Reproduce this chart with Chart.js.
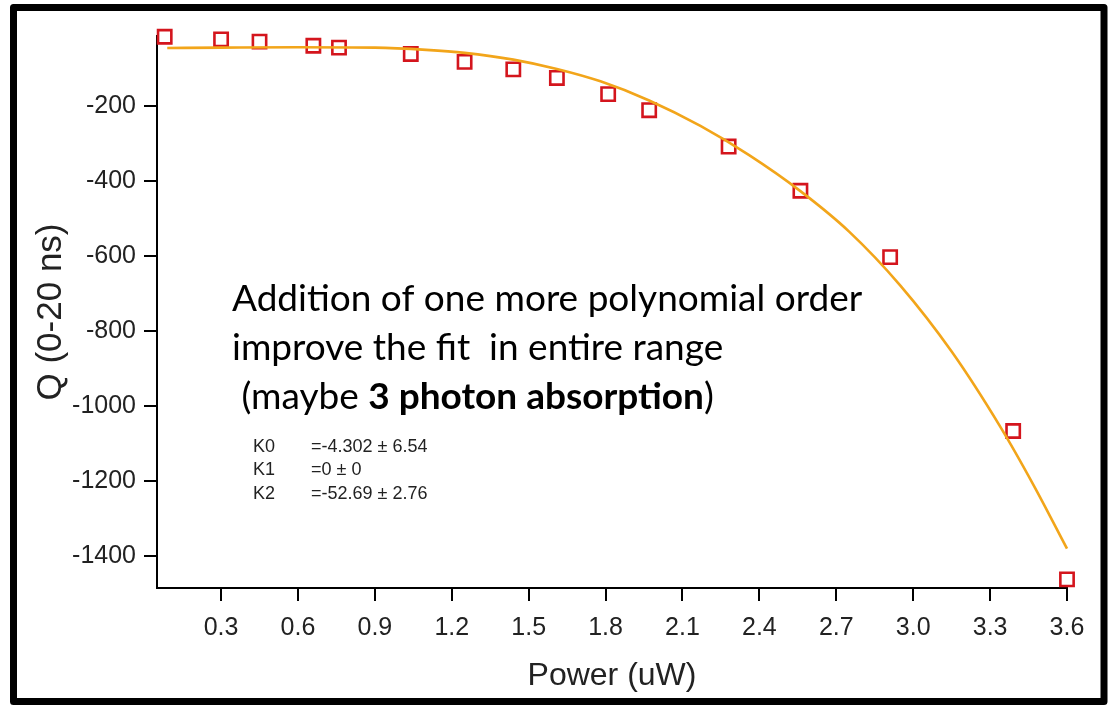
<!DOCTYPE html>
<html>
<head>
<meta charset="utf-8">
<script src="https://cdn.jsdelivr.net/npm/chart.js@4.4.1/dist/chart.umd.min.js"></script>
<style>
  html, body { margin: 0; padding: 0; background: #ffffff; }
  #c { display: block; }
</style>
</head>
<body>
<canvas id="c" width="1108" height="705"></canvas>
<script>
// ---- data ----
const powerX = [0.08, 0.30, 0.45, 0.66, 0.76, 1.04, 1.25, 1.44, 1.61, 1.81, 1.97, 2.28, 2.56, 2.91, 3.39, 3.60];
const chargeQ = [-14, -21, -27, -38, -43, -60, -81, -101, -124, -167, -210, -307, -425, -602, -1066, -1462];

const fitX = [0.09, 0.30, 0.60, 0.90, 1.10, 1.25, 1.44, 1.61, 1.78, 1.97, 2.17, 2.36, 2.56, 2.75, 2.95, 3.15, 3.34, 3.47, 3.60];
const fitQ = [-44, -43, -42, -43, -49, -57, -75, -100, -133, -184, -252, -330, -426, -534, -678, -854, -1055, -1211, -1380];

const xTickValues = [0.3, 0.6, 0.9, 1.2, 1.5, 1.8, 2.1, 2.4, 2.7, 3.0, 3.3, 3.6];
const yTickValues = [-1400, -1200, -1000, -800, -600, -400, -200];

const xTitle = 'Power (uW)';
const yTitle = 'Q (0-20 ns)';
const noteLines = ['Addition of one more polynomial order', 'improve the fit  in entire range'];
const noteLine3 = [' (maybe ', '3 photon absorption', ')'];
const coefNames = ['K0', 'K1', 'K2'];
const coefValues = ['=-4.302 \u00b1 6.54', '=0 \u00b1 0', '=-52.69 \u00b1 2.76'];

// ---- layout / style ----
const AXIS_FONT = '"Liberation Sans", Arial, sans-serif';
const NOTE_FONT = 'Lato, "Open Sans", sans-serif';
const NOTE_SIZE = 37;

const decorations = {
  id: 'decorations',
  beforeDraw(chart) {
    const ctx = chart.ctx;
    ctx.save();
    ctx.fillStyle = '#ffffff';
    ctx.fillRect(0, 0, chart.width, chart.height);
    ctx.restore();
  },
  afterDraw(chart) {
    const ctx = chart.ctx;
    ctx.save();
    // outer frame
    ctx.strokeStyle = '#000000';
    ctx.lineWidth = 7;
    ctx.lineJoin = 'round';
    ctx.strokeRect(13.5, 7.5, 1090.5, 694);

    // big note
    ctx.fillStyle = '#000000';
    ctx.textBaseline = 'alphabetic';
    ctx.textAlign = 'left';
    ctx.font = NOTE_SIZE + 'px ' + NOTE_FONT;
    ctx.fillText(noteLines[0], 232, 311);
    ctx.fillText(noteLines[1], 232, 360);
    let x = 232;
    ctx.fillText(noteLine3[0], x, 409);
    x += ctx.measureText(noteLine3[0]).width;
    ctx.font = 'bold ' + NOTE_SIZE + 'px ' + NOTE_FONT;
    ctx.fillText(noteLine3[1], x, 409);
    x += ctx.measureText(noteLine3[1]).width;
    ctx.font = NOTE_SIZE + 'px ' + NOTE_FONT;
    ctx.fillText(noteLine3[2], x, 409);

    // coefficient box
    ctx.fillStyle = '#222222';
    ctx.font = '18px ' + AXIS_FONT;
    ctx.textBaseline = 'middle';
    for (let i = 0; i < coefNames.length; i++) {
      const y = 447 + i * 23.3;
      ctx.fillText(coefNames[i], 253, y);
      ctx.fillText(coefValues[i], 311, y);
    }
    ctx.restore();
  }
};

new Chart(document.getElementById('c'), {
  type: 'scatter',
  data: {
    datasets: [
      {
        label: 'fit',
        data: fitX.map((v, i) => ({ x: v, y: fitQ[i] })),
        showLine: true,
        borderColor: '#f2a51a',
        borderWidth: 2.6,
        pointRadius: 0,
        cubicInterpolationMode: 'monotone',
        fill: false,
        clip: false
      },
      {
        label: 'Q',
        data: powerX.map((v, i) => ({ x: v, y: chargeQ[i] })),
        showLine: false,
        pointStyle: 'rect',
        pointRadius: 9.4,
        pointBorderWidth: 2.6,
        pointBorderColor: '#d4151d',
        pointBackgroundColor: 'rgba(0,0,0,0)',
        clip: false
      }
    ]
  },
  options: {
    responsive: false,
    animation: false,
    devicePixelRatio: 1,
    layout: { padding: { left: 0, right: 41, top: 36, bottom: 0 } },
    plugins: {
      legend: { display: false },
      tooltip: { enabled: false }
    },
    scales: {
      x: {
        type: 'linear',
        min: 0.05,
        max: 3.6,
        afterBuildTicks: (s) => { s.ticks = xTickValues.map(v => ({ value: v })); },
        afterFit: (s) => { s.height = 705 - 588; },
        border: { display: true, color: '#000000', width: 2 },
        grid: { drawOnChartArea: false, drawTicks: true, tickLength: 13, color: '#000000', lineWidth: 2 },
        ticks: {
          padding: 12,
          color: '#222222',
          font: { family: AXIS_FONT, size: 25 },
          maxRotation: 0,
          autoSkip: false,
          callback: (v) => Number(v).toFixed(1)
        },
        title: {
          display: true,
          text: xTitle,
          color: '#222222',
          font: { family: AXIS_FONT, size: 32 },
          padding: { top: 0, bottom: 10 }
        }
      },
      y: {
        type: 'linear',
        min: -1485,
        max: -12,
        afterBuildTicks: (s) => { s.ticks = yTickValues.map(v => ({ value: v })); },
        afterFit: (s) => { s.width = 157; },
        border: { display: true, color: '#000000', width: 2 },
        grid: { drawOnChartArea: false, drawTicks: true, tickLength: 13, color: '#000000', lineWidth: 2 },
        ticks: {
          padding: 8,
          color: '#222222',
          font: { family: AXIS_FONT, size: 25 },
          autoSkip: false,
          callback: (v) => String(v)
        },
        title: {
          display: true,
          text: yTitle,
          color: '#222222',
          font: { family: AXIS_FONT, size: 35 },
          padding: { top: 30, bottom: 0 }
        }
      }
    }
  },
  plugins: [decorations]
});
</script>
</body>
</html>
